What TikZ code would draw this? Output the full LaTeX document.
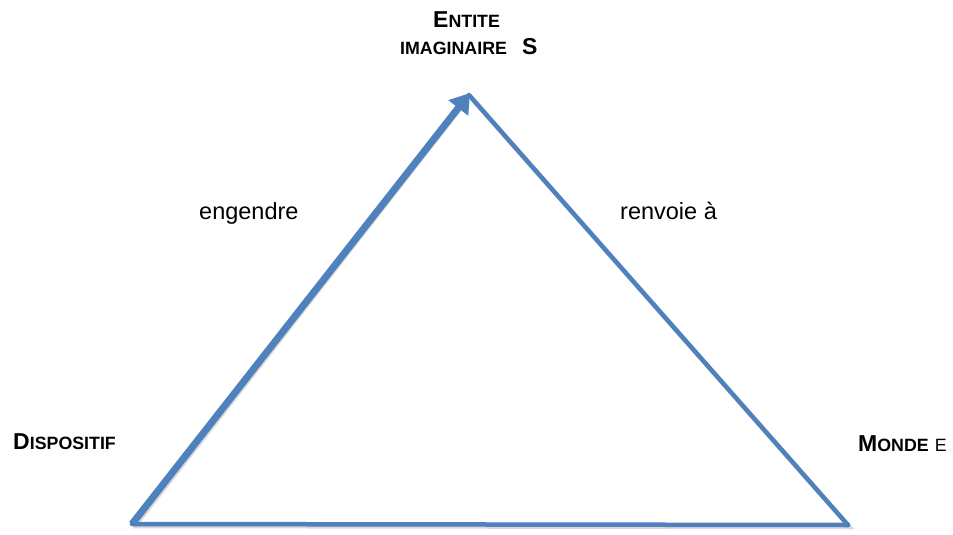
\documentclass[tikz,border=0pt]{standalone}
\usepackage{fontspec}
\setmainfont{Liberation Sans}
\usetikzlibrary{arrows.meta}
\definecolor{edgeblue}{HTML}{4F81BD}
\newcommand{\bigc}[1]{{\fontsize{23}{26}\selectfont #1}}
\newcommand{\smc}[1]{{\fontsize{17.8}{20}\selectfont #1}}
\begin{document}
\begin{tikzpicture}[x=1pt,y=-1pt,
  edge/.style={draw=edgeblue,line width=4.5pt,line cap=round},
  thickedge/.style={draw=edgeblue,line width=7pt,-{Triangle[length=19pt,width=24pt]}},
  shadowline/.style={draw=black!15,line width=4.5pt},
  corner/.style={font=\bfseries,inner sep=0pt,anchor=base west},
  rel/.style={font=\fontsize{23.5}{27}\selectfont,inner sep=0pt,anchor=base west}]
\useasboundingbox (0,0) rectangle (953,535);
\coordinate (A) at (132,524);
\coordinate (T) at (470,93);
\coordinate (R) at (469,95);
\coordinate (B) at (848,525);
% soft shadows
\draw[shadowline] ([shift={(1.5,2)}]R) -- ([shift={(1.5,2)}]B) -- ([shift={(1.5,2)}]A);
\draw[shadowline,line width=6.5pt] ([shift={(1.5,2)}]A) -- ([shift={(-9,13)}]T);
% edges
\draw[edge] (R) -- (B);
\draw[edge] (B) -- (A);
\draw[thickedge] (A) -- (T);
% labels
\node[corner] (ent1) at (433,28) {\bigc{E}\smc{NTITE}};
\node[corner] (ent2) at (400,55) {\smc{IMAGINAIRE}\hspace{15pt}\bigc{S}};
\node[corner] (disp) at (13,449) {\bigc{D}\smc{ISPOSITIF}};
\node[corner] (monde) at (858,451) {\bigc{M}\smc{ONDE}\hspace{6pt}\mdseries\smc{E}};
\node[rel] (eng) at (199,219) {engendre};
\node[rel] (ren) at (620,219) {renvoie à};
\end{tikzpicture}
\end{document}
